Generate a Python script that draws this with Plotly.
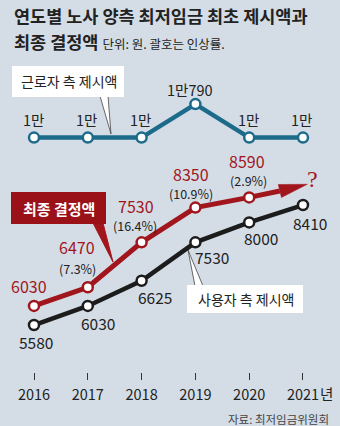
import plotly.graph_objects as go

# ---------------- data ----------------
years = [2016, 2017, 2018, 2019, 2020, 2021]
year_labels = ["2016", "2017", "2018", "2019", "2020", "2021"]
worker_values = [10000, 10000, 10000, 10790, 10000, 10000]
worker_labels = ["1만", "1만", "1만", "1만790", "1만", "1만"]
final_years = [2016, 2017, 2018, 2019, 2020]
final_values = [6030, 6470, 7530, 8350, 8590]
final_pct = ["", "(7.3%)", "(16.4%)", "(10.9%)", "(2.9%)"]
employer_values = [5580, 6030, 6625, 7530, 8000, 8410]
arrow_end_year = 2020.57   # base of the arrow head (towards unknown 2021 value)
arrow_end_value = 8740

# ---------------- style ----------------
W, H = 340, 426
PLOT_BOTTOM = 372
BG = "#D4DDE6"
TEAL = "#1D6B8B"
RED = "#A1161C"
BLACK = "#1C1C1C"
TXT = "#222222"
KR = "Noto Sans CJK KR"
NUM = "Noto Sans CJK KR, sans-serif"


def X(p):
    return p / W


def Y(p):
    return (PLOT_BOTTOM - p) / PLOT_BOTTOM


fig = go.Figure()

marker = lambda c: dict(size=10, color="white", line=dict(color=c, width=2.5))

fig.add_trace(go.Scatter(x=years, y=worker_values, mode="lines+markers",
                         line=dict(color=TEAL, width=4.5), marker=marker(TEAL),
                         hoverinfo="skip"))
fig.add_trace(go.Scatter(x=[final_years[-1], arrow_end_year],
                         y=[final_values[-1], arrow_end_value], mode="lines",
                         line=dict(color=RED, width=5), hoverinfo="skip"))
fig.add_trace(go.Scatter(x=final_years, y=final_values, mode="lines+markers",
                         line=dict(color=RED, width=5), marker=marker(RED),
                         hoverinfo="skip"))
fig.add_trace(go.Scatter(x=years, y=employer_values, mode="lines+markers",
                         line=dict(color=BLACK, width=4.5), marker=marker(BLACK),
                         hoverinfo="skip"))

ann = []
C = dict(xanchor="center", yanchor="middle", showarrow=False)
# worker labels
w_dx = [-1, -1, -1, -5, -1, -1]
for i, (x, v, t) in enumerate(zip(years, worker_values, worker_labels)):
    ann.append(dict(x=x, y=v, text=t, xshift=w_dx[i],
                    yshift=18 if v == 10000 else 15,
                    font=dict(family=NUM, size=14.5, color=TXT), **C))
# final labels
f_val_shift = [(-5, 20), (-11, 40), (-6, 36), (-4, 34), (-2, 36)]
f_pct_shift = [(0, 0), (-10, 19), (-7, 17), (-4, 14), (-1, 17)]
for i, (x, v) in enumerate(zip(final_years, final_values)):
    dx, dy = f_val_shift[i]
    ann.append(dict(x=x, y=v, text=f"{v}", xshift=dx, yshift=dy,
                    font=dict(family=NUM, size=16, color=RED), **C))
    if final_pct[i]:
        dx, dy = f_pct_shift[i]
        ann.append(dict(x=x, y=v, text=final_pct[i], xshift=dx, yshift=dy,
                        font=dict(family=NUM, size=12.5, color=TXT), **C))
# employer labels
e_shift = [(2, -17), (10, -17), (13, -16), (17, -15), (12, -16), (7, -18)]
for i, (x, v) in enumerate(zip(years, employer_values)):
    dx, dy = e_shift[i]
    ann.append(dict(x=x, y=v, text=f"{v}", xshift=dx, yshift=dy,
                    font=dict(family=NUM, size=15.5, color=TXT), **C))
# question mark
ann.append(dict(x=2021, y=arrow_end_value, text="?", xshift=10, yshift=12,
                font=dict(family="Liberation Serif", size=24, color=RED), **C))
# '년' after 2021
ann.append(dict(x=2021, y=Y(393), yref="paper", text="년", xshift=24,
                font=dict(family=KR, size=14.5, color=TXT), **C))

# titles
ann.append(dict(x=X(12), y=Y(16), xref="paper", yref="paper", xanchor="left",
                yanchor="middle", showarrow=False,
                text="<b>연도별 노사 양측 최저임금 최초 제시액과</b>",
                font=dict(family=KR, size=17.5, color=TXT)))
ann.append(dict(x=X(12), y=Y(41), xref="paper", yref="paper", xanchor="left",
                yanchor="middle", showarrow=False,
                text="<b>최종 결정액</b> <span style='font-size:12.5px;font-weight:normal'>단위: 원. 괄호는 인상률.</span>",
                font=dict(family=KR, size=17.5, color=TXT)))
# callout texts
ann.append(dict(x=X(69), y=Y(81), xref="paper", yref="paper",
                text="근로자 측 제시액", font=dict(family=KR, size=14, color=TXT), **C))
ann.append(dict(x=X(59), y=Y(209), xref="paper", yref="paper",
                text="<b>최종 결정액</b>", font=dict(family=KR, size=15, color="white"), **C))
ann.append(dict(x=X(246), y=Y(299), xref="paper", yref="paper",
                text="사용자 측 제시액", font=dict(family=KR, size=14, color=TXT), **C))
# source
ann.append(dict(x=X(331), y=Y(419), xref="paper", yref="paper", xanchor="right",
                yanchor="middle", showarrow=False, text="자료: 최저임금위원회",
                font=dict(family=KR, size=11.5, color="#444444")))


def path(pts):
    return "M " + " L ".join(f"{X(a):.5f},{Y(b):.5f}" for a, b in pts) + " Z"


shapes = [
    # worker callout
    dict(type="path", xref="paper", yref="paper", layer="below",
         path=path([(100, 96), (111, 134), (108, 96)]), fillcolor="white",
         line=dict(color="#444", width=0.8)),
    dict(type="rect", xref="paper", yref="paper", layer="below",
         x0=X(12), x1=X(124), y0=Y(97), y1=Y(66), fillcolor="white", line=dict(width=0)),
    # final callout
    dict(type="path", xref="paper", yref="paper", layer="below",
         path=path([(93, 223), (113, 262), (103, 223)]), fillcolor=RED,
         line=dict(color=RED, width=1)),
    dict(type="rect", xref="paper", yref="paper", layer="below",
         x0=X(11), x1=X(106), y0=Y(224), y1=Y(192), fillcolor="#9B1118", line=dict(width=0)),
    # employer callout
    dict(type="path", xref="paper", yref="paper", layer="below",
         path=path([(195, 286), (188, 250), (203, 286)]), fillcolor="white",
         line=dict(color="#444", width=0.8)),
    dict(type="rect", xref="paper", yref="paper", layer="below",
         x0=X(187), x1=X(303), y0=Y(313), y1=Y(285), fillcolor="white", line=dict(width=0)),
    # arrow head (pixel path anchored at arrow end)
    dict(type="path", xref="x", yref="y", xsizemode="pixel", ysizemode="pixel",
         xanchor=arrow_end_year, yanchor=arrow_end_value,
         path="M -1.6,6.5 L 27.5,6.8 L 1.6,-6.5 Z", fillcolor=RED,
         line=dict(color=RED, width=0.5), layer="above"),
]

fig.update_layout(
    width=W, height=H,
    margin=dict(l=0, r=0, t=0, b=H - PLOT_BOTTOM),
    paper_bgcolor=BG, plot_bgcolor=BG,
    showlegend=False,
    annotations=ann, shapes=shapes,
    xaxis=dict(range=[2015.368, 2021.688], tickvals=years, ticktext=year_labels,
               ticks="outside", ticklen=7, tickwidth=1, tickcolor="#333",
               showgrid=False, zeroline=False, showline=False,
               ticklabelstandoff=3,
               tickfont=dict(family=NUM, size=14.5, color=TXT), fixedrange=True),
    yaxis=dict(range=[4472, 13245], visible=False, fixedrange=True),
)

fig.write_html("out.html")
